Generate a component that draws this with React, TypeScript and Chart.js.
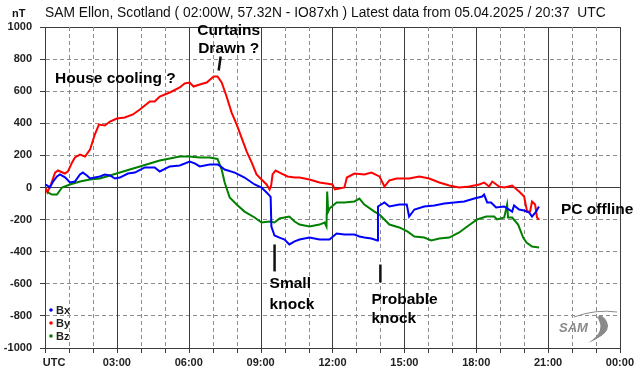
import React, { useEffect, useRef } from 'react';
import { Chart, registerables } from 'chart.js';

Chart.register(...registerables);

const FONT = '"Liberation Sans", Arial, Helvetica, sans-serif';

const titleText = 'SAM Ellon, Scotland ( 02:00W, 57.32N - IO87xh ) Latest data from 05.04.2025 / 20:37  UTC';
const unitText = 'nT';
const xTickLabels = ['UTC', '03:00', '06:00', '09:00', '12:00', '15:00', '18:00', '21:00', '00:00'];
const seriesNames = ['Bx', 'By', 'Bz'];
const seriesColors = ['#0000ff', '#ff0000', '#008000'];

const bxTimes = [0, 0.1, 0.2, 0.35, 0.5, 0.625, 0.85, 1.04, 1.25, 1.46, 1.58, 1.75, 1.88, 2.08, 2.29, 2.5, 2.71, 2.92, 3.125, 3.46, 3.75, 4.17, 4.58, 4.79, 5.21, 5.625, 6.04, 6.25, 6.46, 6.875, 7.2, 7.29, 7.5, 7.92, 8.33, 8.75, 9.04, 9.25, 9.375, 9.42, 9.45, 9.58, 9.79, 10.0, 10.2, 10.42, 10.625, 11.04, 11.46, 11.875, 12.17, 12.5, 12.92, 13.125, 13.33, 13.625, 13.875, 13.9, 14.17, 14.375, 14.79, 15.1, 15.2, 15.42, 15.83, 16.25, 16.67, 17.08, 17.5, 17.92, 18.25, 18.33, 18.46, 18.62, 18.83, 19.17, 19.5, 19.58, 19.79, 20.0, 20.21, 20.33, 20.5, 20.62];
const bxValues = [19, 12, 0, 40, 69, 81, 62, 31, 37, 81, 93, 75, 56, 62, 69, 81, 75, 56, 62, 87, 93, 125, 125, 100, 131, 137, 162, 150, 131, 143, 143, 137, 112, 93, 62, 19, 0, -31, -50, -60, -243, -299, -312, -324, -355, -336, -324, -312, -324, -324, -287, -293, -293, -305, -312, -318, -330, -118, -93, -118, -106, -106, -181, -137, -118, -112, -100, -93, -87, -69, -56, -44, -93, -93, -125, -118, -150, -112, -137, -143, -156, -181, -150, -118];

const byTimes = [0, 0.1, 0.25, 0.42, 0.54, 0.83, 0.96, 1.13, 1.25, 1.46, 1.67, 1.88, 2.08, 2.25, 2.5, 2.71, 3.0, 3.33, 3.67, 3.96, 4.375, 4.58, 4.79, 5.21, 5.625, 5.83, 6.04, 6.2, 6.46, 6.75, 7.04, 7.2, 7.375, 7.58, 7.79, 8.0, 8.2, 8.42, 8.625, 8.83, 9.04, 9.25, 9.375, 9.44, 9.5, 9.625, 9.875, 10.125, 10.42, 10.625, 11.04, 11.46, 11.875, 12.0, 12.1, 12.5, 12.6, 12.92, 13.33, 13.625, 13.96, 14.17, 14.375, 14.67, 15.2, 15.625, 16.04, 16.46, 16.875, 17.29, 17.71, 18.125, 18.33, 18.54, 18.67, 18.96, 19.17, 19.5, 19.79, 20.0, 20.125, 20.25, 20.33, 20.46, 20.54, 20.62];
const byValues = [0, -30, 20, 93, 106, 87, 100, 156, 187, 205, 193, 237, 330, 392, 386, 411, 430, 436, 455, 486, 536, 536, 567, 592, 623, 648, 654, 629, 642, 654, 692, 692, 654, 567, 467, 393, 312, 224, 156, 81, 50, 19, -12, 12, 81, 106, 87, 69, 62, 62, 50, 31, 22, 19, -12, 0, 62, 87, 81, 93, 69, 6, 44, 56, 56, 69, 56, 31, 12, 0, 6, 19, 31, 6, 37, 6, 0, 12, -25, -56, -150, -150, -87, -106, -187, -200];

const bzTimes = [0, 0.125, 0.29, 0.5, 0.71, 1.04, 1.46, 1.875, 2.29, 2.71, 3.125, 3.54, 3.96, 4.375, 4.79, 5.21, 5.625, 6.04, 6.46, 6.875, 7.2, 7.375, 7.5, 7.71, 8.0, 8.33, 8.75, 9.04, 9.375, 9.58, 9.79, 10.2, 10.42, 10.625, 11.04, 11.46, 11.67, 11.75, 11.78, 11.82, 11.875, 12.17, 12.5, 12.92, 13.125, 13.33, 13.75, 13.96, 14.375, 14.79, 15.125, 15.42, 15.83, 16.125, 16.46, 16.875, 17.29, 17.625, 18.04, 18.42, 18.75, 18.875, 19.17, 19.29, 19.33, 19.5, 19.75, 19.96, 20.1, 20.33, 20.625];
const bzValues = [0, -31, -44, -44, 0, 19, 37, 50, 56, 75, 93, 112, 131, 150, 168, 181, 193, 193, 187, 187, 178, 112, 31, -62, -106, -150, -187, -218, -212, -218, -193, -181, -212, -231, -243, -231, -218, -243, -25, -150, -131, -93, -93, -87, -69, -106, -150, -168, -231, -249, -274, -305, -312, -330, -318, -312, -280, -243, -199, -181, -181, -199, -187, -106, -187, -187, -231, -312, -343, -368, -374];

// annotations anchored in data units (hours, nT)
const noteTexts = ['House cooling ?', 'Curtains', 'Drawn ?', 'Small', 'knock', 'Probable', 'knock', 'PC offline'];
const noteHours = [0.42, 7.67, 7.67, 9.375, 9.375, 13.625, 13.625, 21.54];
const noteValues = [648, 953, 841, -629, -754, -723, -847, -168];
const noteAligns = ['left', 'center', 'center', 'left', 'left', 'left', 'left', 'left'];
const pointerHours = [[7.333, 7.25], [9.583, 9.583], [14.0, 14.0]];
const pointerValues = [[816, 729], [-355, -523], [-480, -592]];

const toPoints = (t: number[], v: number[]) => t.map((x, i) => ({ x, y: v[i] }));

const MINOR = '#8c8c8c';
const MAJOR = '#3c3c3c';

const hourGridPlugin = {
  id: 'hourGrid',
  beforeDatasetsDraw(chart: any) {
    const { ctx, scales, chartArea } = chart;
    const xs = scales.x;
    ctx.save();
    ctx.lineWidth = 1;
    for (let h = Math.ceil(xs.min); h <= xs.max; h++) {
      const x = Math.round(xs.getPixelForValue(h)) + 0.5;
      const major = h % 3 === 0;
      ctx.strokeStyle = major ? MAJOR : MINOR;
      ctx.setLineDash(major ? [] : [4, 3]);
      ctx.beginPath();
      ctx.moveTo(x, chartArea.top);
      ctx.lineTo(x, chartArea.bottom);
      ctx.stroke();
      ctx.setLineDash([]);
      ctx.strokeStyle = MAJOR;
      ctx.beginPath();
      ctx.moveTo(x, chartArea.bottom);
      ctx.lineTo(x, chartArea.bottom + 5);
      ctx.stroke();
    }
    ctx.restore();
  },
};

const overlayPlugin = {
  id: 'overlay',
  afterDraw(chart: any) {
    const { ctx, scales, chartArea } = chart;
    const xs = scales.x;
    const ys = scales.y;
    ctx.save();
    // title and unit
    ctx.fillStyle = '#111';
    ctx.textBaseline = 'alphabetic';
    ctx.textAlign = 'left';
    ctx.font = `13.8px ${FONT}`;
    ctx.fillText(titleText, chartArea.left, 17);
    ctx.font = `bold 11px ${FONT}`;
    ctx.fillText(unitText, 12, 17);

    // legend
    ctx.font = `bold 11px ${FONT}`;
    ctx.textBaseline = 'middle';
    chart.data.datasets.forEach((ds: any, i: number) => {
      const y = 310 + i * 13;
      ctx.fillStyle = ds.borderColor;
      ctx.beginPath();
      ctx.arc(chartArea.left + 6, y, 1.8, 0, Math.PI * 2);
      ctx.fill();
      ctx.fillStyle = '#222';
      ctx.fillText(ds.label, chartArea.left + 11, y + 0.5);
    });

    // annotations
    ctx.font = `bold 15.5px ${FONT}`;
    ctx.fillStyle = '#000';
    ctx.textBaseline = 'alphabetic';
    noteTexts.forEach((t, i) => {
      ctx.textAlign = noteAligns[i] as CanvasTextAlign;
      ctx.fillText(t, xs.getPixelForValue(noteHours[i]), ys.getPixelForValue(noteValues[i]));
    });
    ctx.strokeStyle = '#111';
    ctx.lineWidth = 2.5;
    pointerHours.forEach((h, i) => {
      ctx.beginPath();
      ctx.moveTo(xs.getPixelForValue(h[0]), ys.getPixelForValue(pointerValues[i][0]));
      ctx.lineTo(xs.getPixelForValue(h[1]), ys.getPixelForValue(pointerValues[i][1]));
      ctx.stroke();
    });

    // SAM logo
    ctx.fillStyle = '#8a8a8a';
    ctx.strokeStyle = '#8a8a8a';
    ctx.lineWidth = 1;
    ctx.beginPath();
    ctx.moveTo(574, 317);
    ctx.quadraticCurveTo(596, 309, 617, 312);
    ctx.stroke();
    ctx.beginPath();
    ctx.moveTo(601, 315);
    ctx.quadraticCurveTo(620, 330, 588, 343);
    ctx.quadraticCurveTo(607, 331, 597, 317);
    ctx.closePath();
    ctx.fill();
    ctx.font = `italic bold 13px ${FONT}`;
    ctx.textAlign = 'left';
    ctx.textBaseline = 'alphabetic';
    ctx.fillText('SAM', 559, 332);
    ctx.restore();
  },
};

export default function App() {
  const ref = useRef<HTMLCanvasElement>(null);
  useEffect(() => {
    document.body.style.margin = '0';
    document.body.style.background = '#ffffff';
    const canvas = ref.current;
    if (!canvas) return;
    const solidOrDash = (isSolid: boolean) => (isSolid ? [] : [4, 3]);
    const chart = new Chart(canvas, {
      type: 'line',
      data: {
        datasets: [
          { label: seriesNames[0], data: toPoints(bxTimes, bxValues), borderColor: seriesColors[0], backgroundColor: seriesColors[0] },
          { label: seriesNames[1], data: toPoints(byTimes, byValues), borderColor: seriesColors[1], backgroundColor: seriesColors[1] },
          { label: seriesNames[2], data: toPoints(bzTimes, bzValues), borderColor: seriesColors[2], backgroundColor: seriesColors[2] },
        ],
      },
      options: {
        responsive: false,
        animation: false,
        maintainAspectRatio: false,
        layout: { padding: { top: 27, right: 21, bottom: 0, left: 0 } },
        elements: {
          point: { radius: 0 },
          line: { borderWidth: 2, tension: 0 },
        },
        plugins: {
          legend: { display: false },
          title: { display: false },
          tooltip: { enabled: false },
        },
        scales: {
          x: {
            type: 'linear',
            min: 0,
            max: 24,
            afterFit: (s: any) => { s.height = 28; },
            ticks: {
              stepSize: 3,
              autoSkip: false,
              maxRotation: 0,
              padding: 8,
              color: '#222',
              font: { family: FONT, size: 11, weight: 'bold' },
              callback: (v: any) => {
                const n = Math.round(Number(v));
                if (n % 3 !== 0) return '';
                const lbl = xTickLabels[n / 3];
                return n === 0 ? '\u2007\u2007\u2007' + lbl : lbl;
              },
            },
            grid: { display: false, drawTicks: false },
            border: { display: true, color: MAJOR },
          },
          y: {
            type: 'linear',
            min: -1000,
            max: 1000,
            afterFit: (s: any) => { s.width = 45; },
            ticks: {
              stepSize: 200,
              maxTicksLimit: 50,
              padding: 8,
              color: '#222',
              font: { family: FONT, size: 11, weight: 'bold' },
              callback: (v: any) => String(Math.round(Number(v))),
            },
            grid: {
              color: (c: any) => (c.tick && Math.abs(c.tick.value) % 1000 === 0 ? MAJOR : MINOR),
              tickColor: MAJOR,
              tickLength: 5,
              lineWidth: 1,
            },
            border: {
              color: MAJOR,
              dash: (c: any) => solidOrDash(!c.tick || Math.abs(c.tick.value) % 1000 === 0),
            },
          },
        },
      } as any,
      plugins: [hourGridPlugin, overlayPlugin],
    });
    return () => chart.destroy();
  }, []);
  return (
    <div style={{ width: 642, height: 376, background: '#fff' }}>
      <canvas ref={ref} width={642} height={376} style={{ display: 'block' }} />
    </div>
  );
}
